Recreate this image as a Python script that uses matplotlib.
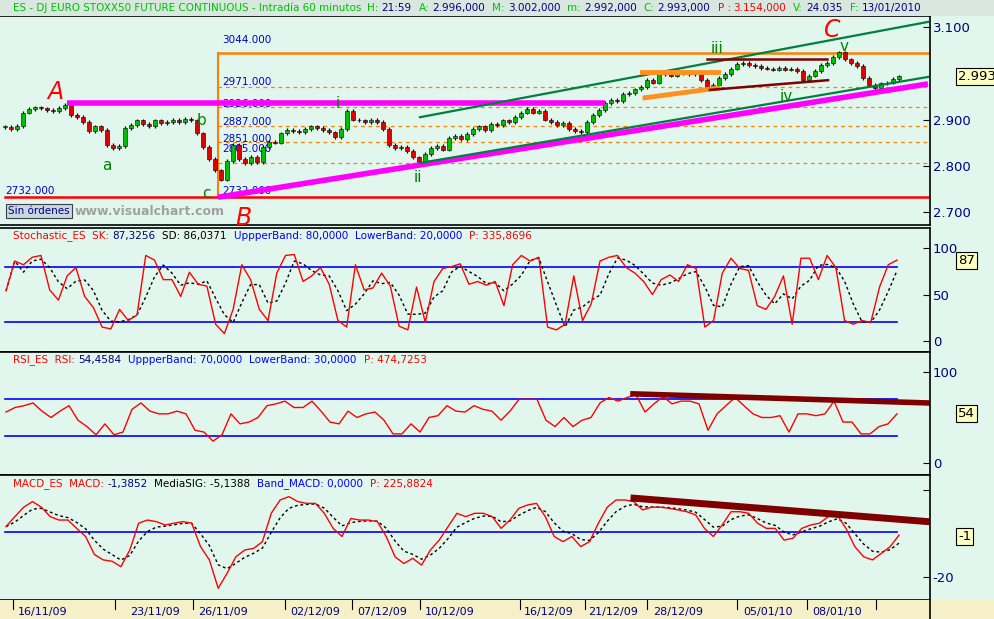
import numpy as np
import matplotlib
matplotlib.use("Agg")
import matplotlib.pyplot as plt
from matplotlib.patches import Rectangle

plt.rcParams['font.family'] = ['DejaVu Sans']

# ---------------- data ----------------
price_close = [2884, 2880, 2886, 2915, 2922, 2926, 2924, 2920, 2918, 2925,
               2932, 2910, 2905, 2895, 2875, 2885, 2878, 2845, 2838, 2843,
               2882, 2888, 2898, 2890, 2885, 2898, 2892, 2895, 2900, 2895,
               2902, 2898, 2870, 2840, 2815, 2790, 2770, 2810, 2845, 2815,
               2805, 2820, 2808, 2840, 2852, 2850, 2870, 2878, 2875, 2872,
               2880, 2885, 2882, 2878, 2872, 2862, 2880, 2918, 2900, 2898,
               2895, 2900, 2895, 2880, 2845, 2838, 2840, 2832, 2818, 2805,
               2825, 2838, 2842, 2835, 2860, 2865, 2858, 2868, 2880, 2885,
               2878, 2890, 2888, 2898, 2895, 2905, 2915, 2922, 2915, 2918,
               2900, 2895, 2888, 2892, 2880, 2875, 2872, 2895, 2910, 2920,
               2935, 2942, 2940, 2955, 2958, 2965, 2970, 2985, 2980, 2998,
               3000, 2995, 3000, 3002, 2998, 3000, 2985, 2970, 2975, 2990,
               2998, 3010, 3020, 3022, 3018, 3015, 3012, 3010, 3008, 3012,
               3008, 3010, 3005, 2985, 2995, 3005, 3018, 3022, 3035, 3045,
               3030, 3022, 3015, 2990, 2975, 2968, 2978, 2980, 2988, 2993]

stoch_sk = [54, 86, 82, 90, 92, 55, 44, 70, 79, 48, 36, 15, 13, 34, 22, 28, 92, 87,
            66, 66, 48, 74, 61, 59, 18, 8, 34, 82, 66, 34, 22, 73, 92, 93, 64, 70,
            79, 61, 22, 15, 82, 55, 57, 73, 59, 16, 12, 58, 20, 64, 78, 80, 83, 61,
            64, 60, 64, 38, 82, 92, 86, 90, 15, 12, 18, 70, 22, 40, 86, 90, 92, 79,
            73, 64, 50, 66, 71, 64, 82, 78, 15, 22, 73, 89, 78, 76, 38, 34, 48, 70,
            18, 89, 89, 66, 92, 79, 22, 18, 22, 20, 58, 82, 87]

rsi = [56, 61, 63, 66, 57, 50, 57, 63, 47, 40, 31, 43, 31, 34, 59, 66, 57, 54, 54,
       57, 54, 36, 34, 24, 31, 54, 43, 45, 50, 63, 65, 68, 61, 61, 68, 57, 45, 43,
       57, 50, 54, 56, 47, 32, 32, 43, 34, 50, 52, 63, 57, 56, 63, 59, 57, 47, 57,
       70, 70, 70, 47, 40, 50, 40, 47, 50, 66, 72, 68, 72, 75, 56, 65, 73, 65, 68,
       68, 65, 36, 54, 63, 72, 63, 54, 50, 50, 52, 34, 54, 54, 52, 54, 68, 45, 45,
       32, 32, 40, 43, 54]

macd = [2.4, 6.8, 11, 13.5, 11, 6.8, 5.3, 5.3, 1.6, -2, -10, -12.4, -13, -15.4, -8,
        3.9, 5.3, 4.6, 3.1, 3.9, 4.6, 3.9, -6.5, -12.4, -25, -18.4, -11, -8, -7.3,
        -4.3, 8.3, 14.2, 15.7, 13.5, 12.7, 12.7, 8.3, 1.6, -2, 6, 5.3, 5.3, 4.6, -2,
        -11, -14, -11.7, -14.7, -8, -3.6, 2.4, 8.3, 6.8, 8.3, 8.3, 6.8, 1.6, 5.3,
        10.5, 12, 12.7, 6.8, -2, -4.3, -2, -6.5, -4.3, 3.9, 11, 14.2, 14.2, 13.5,
        9.8, 11, 11, 10.5, 9.8, 9, 7.6, 1.6, -2, 3.1, 9, 9, 8.3, 3.9, 1.6, 1.6,
        -3.6, -2.8, 1.6, 3.1, 3.9, 6.8, 7.6, 1.6, -6.5, -11, -12.4, -9.5, -6.5, -1.4]

fib_levels = [3044, 2971, 2926, 2887, 2851, 2805, 2732]
date_labels = ['16/11/09', '23/11/09', '26/11/09', '02/12/09', '07/12/09', '10/12/09',
               '16/12/09', '21/12/09', '28/12/09', '05/01/10', '08/01/10']
date_label_x = [18, 130, 198, 290, 357, 425, 524, 588, 653, 743, 812]
date_tick_x = [13, 115, 193, 285, 352, 420, 520, 585, 647, 737, 807, 876]

W, H = 994, 619
BG = '#E1F7EE'
fig = plt.figure(figsize=(W / 100, H / 100), dpi=100, facecolor=BG)
renderer = fig.canvas.get_renderer()

def rect(x0, y0, x1, y1):
    return [x0 / W, 1 - y1 / H, (x1 - x0) / W, (y1 - y0) / H]

def mkax(y0, y1, ylim):
    ax = fig.add_axes(rect(0, y0, 930, y1))
    ax.set_facecolor(BG)
    ax.set_xlim(0, 930)
    ax.set_ylim(*ylim)
    ax.set_xticks([])
    ax.spines['left'].set_visible(False)
    for s in ['top', 'bottom', 'right']:
        ax.spines[s].set_color('black')
        ax.spines[s].set_linewidth(1.2)
    ax.yaxis.tick_right()
    ax.tick_params(axis='y', colors='black', labelcolor='#000080', labelsize=9.5,
                   direction='in', length=5, pad=2)
    return ax

# ---------------- main price panel ----------------
ax = mkax(16, 225, (2671.9, 3123.8))
ax.set_yticks([2700, 2800, 2900, 3100])
ax.set_yticklabels(['2.700', '2.800', '2.900', '3.100'])

n = len(price_close)
px = 5 + 6 * np.arange(n)
closes = np.array(price_close, float)
opens = np.concatenate([[closes[0]], closes[:-1]])
for xi, o, c in zip(px, opens, closes):
    hi, lo = max(o, c) + 4, min(o, c) - 4
    ax.vlines(xi, lo, hi, color='black', lw=0.9, zorder=3)
    col = '#00C000' if c >= o else '#E00000'
    b0, b1 = min(o, c), max(o, c)
    if b1 - b0 < 1.5:
        b1 = b0 + 1.5
    ax.add_patch(Rectangle((xi - 1.6, b0), 3.2, b1 - b0, facecolor=col,
                           edgecolor='black', lw=0.4, zorder=4))

# Fibonacci frame
ax.plot([218, 218], [2732, 3044], color='#FF8000', lw=1.5, zorder=2)
ax.plot([218, 928], [3044, 3044], color='#FF8000', lw=1.8, zorder=2)
for lv in fib_levels[1:-1]:
    ax.plot([218, 928], [lv, lv], color='#FF8000', lw=0.9, ls=(0, (3, 3)), zorder=2)
ax.plot([5, 928], [2732, 2732], color='#FF0000', lw=1.8, zorder=2)
lab_y = {3044: 3044 + 17, 2971: 2971 - 1, 2926: 2926 - 4, 2887: 2887 - 4,
         2851: 2851 - 4, 2805: 2805 + 20, 2732: 2732 + 3}
for lv in fib_levels:
    ax.text(222, lab_y[lv], f'{lv}.000', color='#0000CC', fontsize=7.5, va='bottom', zorder=1)
ax.text(5, 2735, '2732.000', color='#0000CC', fontsize=7.5, va='bottom')

# trend lines (drawn objects)
ax.plot([67, 605], [2935, 2935], color='#FF00FF', lw=4, zorder=5, solid_capstyle='butt')
ax.plot([218, 928], [2732, 2977], color='#FF00FF', lw=4, zorder=5, solid_capstyle='butt')
ax.plot([420, 928], [2905, 3111], color='#008040', lw=1.6, zorder=5)
ax.plot([420, 928], [2806, 2992], color='#008040', lw=1.6, zorder=5)
ax.plot([642, 718], [3003, 3003], color='#FF9020', lw=3.5, zorder=5)
ax.plot([645, 718], [2947, 2968], color='#FF9020', lw=3.5, zorder=5)
ax.plot([707, 827], [3031, 3031], color='#800000', lw=1.8, zorder=5)
ax.plot([710, 828], [2964, 2985], color='#800000', lw=1.8, zorder=5)

# wave labels
for t, x, y, c, fs in [('A', 55, 2960, '#FF0000', 17), ('B', 243, 2688, '#FF0000', 17),
                       ('C', 832, 3093, '#FF0000', 17),
                       ('a', 107, 2800, '#008000', 11), ('b', 202, 2898, '#008000', 11),
                       ('c', 206, 2740, '#008000', 11), ('i', 338, 2935, '#008000', 11),
                       ('ii', 418, 2775, '#008000', 11), ('iii', 717, 3054, '#008000', 11),
                       ('iv', 786, 2949, '#008000', 11), ('v', 844, 3057, '#008000', 11)]:
    ax.text(x, y, t, color=c, fontsize=fs, ha='center', va='center', zorder=6,
            style='italic' if c == '#FF0000' else 'normal')
ax.text(8, 2702, 'Sin órdenes', fontsize=7.5, color='#000080', va='center', zorder=7,
        bbox=dict(boxstyle='square,pad=0.2', fc='#C8D8E0', ec='#404040', lw=0.8))
ax.text(75, 2702, 'www.visualchart.com', fontsize=9, color='#A0A0A0', weight='bold',
        va='center', zorder=7)
ax.text(1.03, 2993, '2.993', transform=ax.get_yaxis_transform(), fontsize=9.5,
        color='black', va='center', bbox=dict(boxstyle='square,pad=0.15', fc='#FFFFC0', ec='black', lw=0.8))

# ---------------- stochastic ----------------
ax2 = mkax(228, 352, (-11.8, 121.5))
ax2.set_yticks([0, 50, 100])
xs = np.linspace(6, 897, len(stoch_sk))
sk = np.array(stoch_sk, float)
sd = np.convolve(sk, np.ones(3) / 3, mode='full')[:len(sk)]
sd[:2] = sk[:2]
ax2.axhline(80, xmin=5 / 930, xmax=897 / 930, color='#0000FF', lw=1.2)
ax2.axhline(20, xmin=5 / 930, xmax=897 / 930, color='#0000FF', lw=1.2)
ax2.plot(xs, sd, color='black', lw=1, ls=(0, (2, 2)))
ax2.plot(xs, sk, color='#FF0000', lw=1)
ax2.text(1.03, 87, '87', transform=ax2.get_yaxis_transform(), fontsize=9.5, va='center',
         bbox=dict(boxstyle='square,pad=0.15', fc='#FFFFC0', ec='black', lw=0.8))

# ---------------- RSI ----------------
ax3 = mkax(352, 475, (-13.2, 122))
ax3.set_yticks([0, 100])
xr = np.linspace(6, 897, len(rsi))
ax3.axhline(70, xmin=5 / 930, xmax=897 / 930, color='#0000FF', lw=1.2)
ax3.axhline(30, xmin=5 / 930, xmax=897 / 930, color='#0000FF', lw=1.2)
ax3.plot(xr, rsi, color='#FF0000', lw=1)
ax3.plot([633, 928], [76, 66], color='#800000', lw=4)
ax3.text(1.03, 54, '54', transform=ax3.get_yaxis_transform(), fontsize=9.5, va='center',
         bbox=dict(boxstyle='square,pad=0.15', fc='#FFFFC0', ec='black', lw=0.8))

# ---------------- MACD ----------------
ax4 = mkax(475, 600, (-30.2, 25.3))
ax4.set_yticks([-20, 18.7])
ax4.set_yticklabels(['-20', ''])
xm = np.linspace(6, 899, len(macd))
mv = np.array(macd, float)
sig = np.empty_like(mv)
sig[0] = mv[0]
for k in range(1, len(mv)):
    sig[k] = sig[k - 1] + 0.45 * (mv[k] - sig[k - 1])
ax4.axhline(0, xmin=5 / 930, xmax=897 / 930, color='#0000FF', lw=1.2)
ax4.plot(xm, sig, color='black', lw=1, ls=(0, (2, 2)))
ax4.plot(xm, mv, color='#FF0000', lw=1)
ax4.plot([634, 928], [15, 4.6], color='#800000', lw=5)
ax4.text(1.03, -1.8, '-1', transform=ax4.get_yaxis_transform(), fontsize=9.5, va='center',
         bbox=dict(boxstyle='square,pad=0.15', fc='#FFFFC0', ec='black', lw=0.8))

# ---------------- date axis ----------------
axd = fig.add_axes(rect(0, 600, 994, 619))
axd.set_facecolor('#F5F0C8')
axd.set_xlim(0, 994)
axd.set_ylim(0, 1)
axd.set_xticks([]); axd.set_yticks([])
for s in axd.spines.values():
    s.set_visible(False)
for tx in date_tick_x:
    axd.plot([tx, tx], [0.55, 1], color='black', lw=0.8)
for lx, lb in zip(date_label_x, date_labels):
    axd.text(lx, 0.35, lb, fontsize=8, color='#000080', va='center')
axd.plot([930, 930], [0, 1], color='black', lw=1.2)

# ---------------- headers ----------------
tb = fig.add_axes(rect(0, 0, 994, 16))
tb.set_facecolor('#D8E8E0'); tb.set_xticks([]); tb.set_yticks([])
for s in tb.spines.values():
    s.set_visible(False)

def seg(x0, y, items, fs=7.5):
    x = x0
    for t, c, g in items:
        tt = fig.text(x / W, 1 - y / H, t, color=c, fontsize=fs, va='center')
        x += tt.get_window_extent(renderer).width + g

G, N, R, B, K = '#00C000', '#000080', '#FF0000', '#0000FF', 'black'
seg(13, 8, [('ES - DJ EURO STOXX50 FUTURE CONTINUOUS - Intradía 60 minutos', G, 6),
            ('H:', G, 3), ('21:59', N, 7), ('A:', G, 3), ('2.996,000', N, 7),
            ('M:', G, 3), ('3.002,000', N, 7), ('m:', G, 3), ('2.992,000', N, 7),
            ('C:', G, 3), ('2.993,000', N, 7), ('P :', R, 3), ('3.154,000', R, 7),
            ('V:', G, 3), ('24.035', N, 7), ('F:', G, 3), ('13/01/2010', N, 7)])
seg(13, 236, [('Stochastic_ES  SK:', R, 3), ('87,3256', N, 7), ('SD: 86,0371', K, 7),
              ('UppperBand: 80,0000', B, 7), ('LowerBand: 20,0000', B, 7),
              ('P: 335,8696', R, 7)])
seg(13, 360, [('RSI_ES  RSI:', R, 3), ('54,4584', N, 7), ('UppperBand: 70,0000', B, 7),
              ('LowerBand: 30,0000', B, 7), ('P: 474,7253', R, 7)])
seg(13, 484, [('MACD_ES  MACD:', R, 3), ('-1,3852', N, 7), ('MediaSIG: -5,1388', K, 7),
              ('Band_MACD: 0,0000', B, 7), ('P: 225,8824', R, 7)])

fig.savefig('out.png', dpi=100, facecolor=BG)
